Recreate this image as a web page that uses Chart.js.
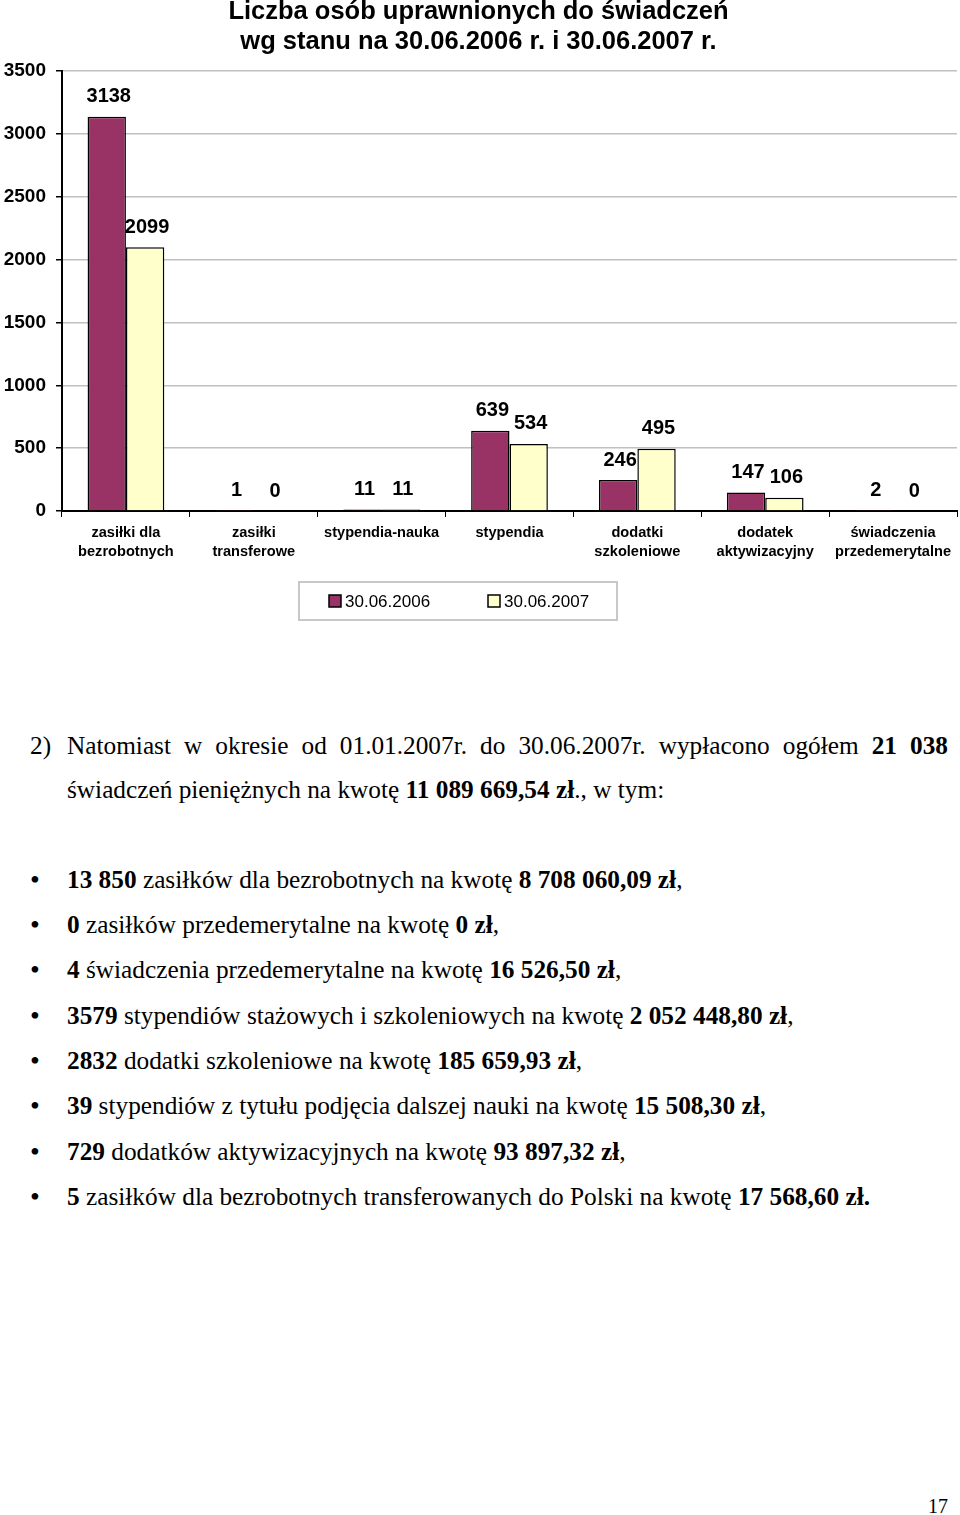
<!DOCTYPE html>
<html lang="pl">
<head>
<meta charset="utf-8">
<title>Liczba osób uprawnionych do świadczeń</title>
<script src="https://cdn.jsdelivr.net/npm/chart.js@4/dist/chart.umd.min.js"></script>
<style>
  html, body { margin: 0; padding: 0; background: #fff; }
  body { width: 960px; height: 1515px; position: relative; overflow: hidden; }
  #chartWrap { position: absolute; left: 0; top: -3px; width: 960px; height: 630px; }
  .t { position: absolute; font-family: "Times New Roman", "Liberation Serif", serif; font-size: 25.3px; color: #000; white-space: nowrap; line-height: 1; }
  .just { text-align: justify; text-align-last: justify; white-space: normal; }
  .bul { position: absolute; left: 30px; font-family: "Times New Roman", "Liberation Serif", serif; font-size: 28px; line-height: 1; }
</style>
</head>
<body>
<div id="chartWrap"><canvas id="c" width="960" height="630"></canvas></div>

<div class="t" style="left:30px; top:733px;">2)</div>
<div class="t just" style="left:67px; top:733px; width:881px;">Natomiast w okresie od 01.01.2007r. do 30.06.2007r. wypłacono ogółem <b>21 038</b></div>
<div class="t" style="left:67px; top:777px;">świadczeń pieniężnych na kwotę <b>11 089 669,54 zł</b>., w tym:</div>

<div class="bul" style="top:866px;">•</div>
<div class="t" style="left:67px; top:867px;"><b>13 850</b> zasiłków dla bezrobotnych na kwotę <b>8 708 060,09 zł</b>,</div>
<div class="bul" style="top:911px;">•</div>
<div class="t" style="left:67px; top:912px;"><b>0</b> zasiłków przedemerytalne na kwotę <b>0 zł</b>,</div>
<div class="bul" style="top:956px;">•</div>
<div class="t" style="left:67px; top:957px;"><b>4</b> świadczenia przedemerytalne na kwotę <b>16 526,50 zł</b>,</div>
<div class="bul" style="top:1002px;">•</div>
<div class="t" style="left:67px; top:1003px;"><b>3579</b> stypendiów stażowych i szkoleniowych na kwotę <b>2 052 448,80 zł</b>,</div>
<div class="bul" style="top:1047px;">•</div>
<div class="t" style="left:67px; top:1048px;"><b>2832</b> dodatki szkoleniowe na kwotę <b>185 659,93 zł</b>,</div>
<div class="bul" style="top:1092px;">•</div>
<div class="t" style="left:67px; top:1093px;"><b>39</b> stypendiów z tytułu podjęcia dalszej nauki na kwotę <b>15 508,30 zł</b>,</div>
<div class="bul" style="top:1138px;">•</div>
<div class="t" style="left:67px; top:1139px;"><b>729</b> dodatków aktywizacyjnych na kwotę <b>93 897,32 zł</b>,</div>
<div class="bul" style="top:1183px;">•</div>
<div class="t" style="left:67px; top:1184px;"><b>5</b> zasiłków dla bezrobotnych transferowanych do Polski na kwotę <b>17 568,60 zł.</b></div>

<div class="t" style="left:928px; top:1496px; font-size:20px;">17</div>

<script>
const categories = [
  ['zasiłki dla', 'bezrobotnych'],
  ['zasiłki', 'transferowe'],
  'stypendia-nauka',
  'stypendia',
  ['dodatki', 'szkoleniowe'],
  ['dodatek', 'aktywizacyjny'],
  ['świadczenia', 'przedemerytalne']
];
const seriesLabels = ['30.06.2006', '30.06.2007'];
const values2006 = [3138, 1, 11, 639, 246, 147, 2];
const values2007 = [2099, 0, 11, 534, 495, 106, 0];
const yMin = 0;
const yMax = 3500;
const yStep = 500;
const titleLines = ['Liczba osób uprawnionych do świadczeń', 'wg stanu na 30.06.2006 r. i 30.06.2007 r.'];

const SANS = 'Arial, "Liberation Sans", sans-serif';

const valueLabels = {
  id: 'valueLabels',
  afterDatasetsDraw(chart) {
    const ctx = chart.ctx;
    ctx.save();
    ctx.font = 'bold 20px ' + SANS;
    ctx.fillStyle = '#000';
    ctx.textAlign = 'center';
    ctx.textBaseline = 'middle';
    chart.data.datasets.forEach((ds, di) => {
      const meta = chart.getDatasetMeta(di);
      meta.data.forEach((el, i) => {
        ctx.fillText(String(ds.data[i]), el.x + 2, el.y - 20);
      });
    });
    ctx.restore();
  }
};

const boxLegend = {
  id: 'boxLegend',
  afterDraw(chart) {
    const ctx = chart.ctx;
    ctx.save();
    const bx = 299, by = 585, bw = 318, bh = 38;
    ctx.strokeStyle = '#c8c8c8';
    ctx.lineWidth = 2;
    ctx.strokeRect(bx, by, bw, bh);
    ctx.font = '17px ' + SANS;
    ctx.textBaseline = 'middle';
    ctx.textAlign = 'left';
    const itemX = [329, 488];
    chart.data.datasets.forEach((ds, di) => {
      const x = itemX[di];
      const cy = by + bh / 2;
      ctx.fillStyle = ds.backgroundColor;
      ctx.fillRect(x, cy - 6, 12, 12);
      ctx.strokeStyle = '#000';
      ctx.lineWidth = 1.5;
      ctx.strokeRect(x, cy - 6, 12, 12);
      ctx.fillStyle = '#000';
      ctx.fillText(ds.label, x + 16, cy + 1);
    });
    ctx.restore();
  }
};

new Chart(document.getElementById('c'), {
  type: 'bar',
  data: {
    labels: categories,
    datasets: [
      { label: seriesLabels[0], data: values2006, backgroundColor: '#993366', borderColor: '#000', borderWidth: 1.5, categoryPercentage: 0.6, barPercentage: 1.0 },
      { label: seriesLabels[1], data: values2007, backgroundColor: '#FFFFCC', borderColor: '#000', borderWidth: 1.5, categoryPercentage: 0.6, barPercentage: 1.0 }
    ]
  },
  options: {
    responsive: false,
    animation: false,
    devicePixelRatio: 1,
    layout: { padding: { left: 0, right: 3, top: 0, bottom: 60 } },
    plugins: {
      legend: { display: false },
      tooltip: { enabled: false },
      title: {
        display: true,
        text: titleLines,
        color: '#000',
        font: { family: SANS, size: 25.5, weight: 'bold', lineHeight: 1.18 },
        padding: { top: 0, bottom: 14 }
      }
    },
    scales: {
      x: {
        afterFit(s) { s.height = 56; },
        grid: { display: true, drawOnChartArea: false, drawTicks: true, tickLength: 6, tickColor: '#000', offset: true },
        border: { display: true, color: '#000', width: 2 },
        ticks: { color: '#000', padding: 6, maxRotation: 0, autoSkip: false, font: { family: SANS, size: 14.6, weight: 'bold', lineHeight: 1.3 } }
      },
      y: {
        min: yMin,
        max: yMax,
        afterFit(s) { s.width = 62; },
        grid: { color: '#c0c0c0', lineWidth: 1.5, tickColor: '#000', tickLength: 6 },
        border: { display: true, color: '#000', width: 2 },
        ticks: { stepSize: yStep, color: '#000', padding: 10, callback: (v) => String(v), font: { family: SANS, size: 19, weight: 'bold' } }
      }
    }
  },
  plugins: [valueLabels, boxLegend]
});
</script>
</body>
</html>
